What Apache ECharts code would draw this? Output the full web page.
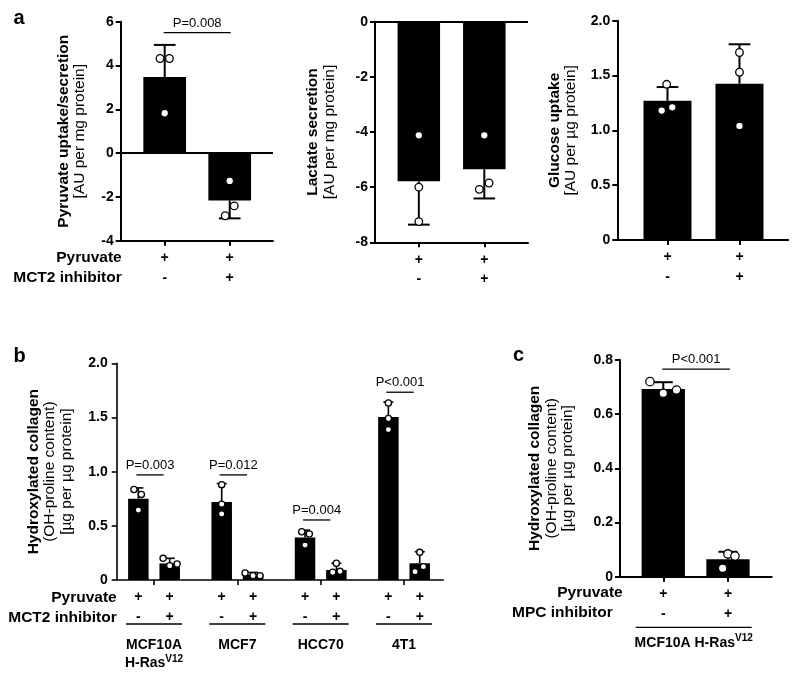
<!DOCTYPE html>
<html><head><meta charset="utf-8">
<script src="https://cdn.jsdelivr.net/npm/echarts@6/dist/echarts.min.js"></script>
<style>html,body{margin:0;padding:0;background:#fff}#chart{width:800px;height:678px}</style>
</head><body><div id="chart"></div>
<script>
// ================= DATA =================
const rowPyruvate = ['+', '+'];
const rowMCT2 = ['-', '+'];
const rowMPC = ['-', '+'];

// panel a – pyruvate uptake/secretion
const a1Means = [3.47, -2.16];
const a1Err = [1.47, 0.82];
const a1Reps = [[4.32, 4.32, 1.82], [-1.27, -2.41, -2.86]];
const a1P = ['P=0.008'];
const a1PLevel = [5.5];

// panel a – lactate secretion
const a2Means = [-5.79, -5.35];
const a2Err = [1.57, 1.06];
const a2Reps = [[-4.12, -6.0, -7.25], [-4.12, -6.08, -5.85]];

// panel a – glucose uptake
const a3Means = [1.27, 1.425];
const a3Err = [0.125, 0.36];
const a3Reps = [[1.42, 1.18, 1.21], [1.71, 1.53, 1.04]];

// panel b – hydroxylated collagen, 4 cell lines, (-/+ MCT2 inhibitor)
const bGroups = ['MCF10A\nH-Ras{sup|V12}', 'MCF7', 'HCC70', '4T1'];
const bCtrlMeans = [0.75, 0.72, 0.393, 1.504];
const bCtrlErr = [0.10, 0.17, 0.067, 0.138];
const bCtrlReps = [[0.835, 0.79, 0.645], [0.88, 0.70, 0.61], [0.445, 0.424, 0.322], [1.633, 1.49, 1.388]];
const bInhMeans = [0.153, 0.05, 0.092, 0.154];
const bInhErr = [0.047, 0.02, 0.062, 0.107];
const bInhReps = [[0.2, 0.132, 0.147], [0.065, 0.04, 0.04], [0.154, 0.071, 0.08], [0.255, 0.077, 0.123]];
const bP = ['P=0.003', 'P=0.012', 'P=0.004', 'P<0.001'];
const bPLevel = [0.97, 0.97, 0.554, 1.733];

// panel c – hydroxylated collagen, MPC inhibitor
const cGroup = ['MCF10A H-Ras{sup|V12}'];
const cMeans = [0.693, 0.064];
const cErr = [0.025, 0.028];
const cReps = [[0.72, 0.677, 0.689], [0.084, 0.076, 0.031]];
const cP = ['P<0.001'];
const cPLevel = [0.766];

// axis titles
const a1Title = ['Pyruvate uptake/secretion', '[AU per mg protein]'];
const a2Title = ['Lactate secretion', '[AU per mg protein]'];
const a3Title = ['Glucose uptake', '[AU per µg protein]'];
const bTitle = ['Hydroxylated collagen', '(OH-proline content)', '[µg per µg protein]'];
const cTitle = ['Hydroxylated collagen', '(OH-proline content)', '[µg per µg protein]'];

// ================= LAYOUT =================
const FONT = '"Liberation Sans", Arial, Helvetica, sans-serif';
const BOFF = 0.188; // half distance between the two bars of a group (in group units)

const bX = [];
const bMeansAll = [], bErrAll = [], bRepsAll = [];
bGroups.forEach((g, i) => {
  bX.push(i - BOFF, i + BOFF);
  bMeansAll.push(bCtrlMeans[i], bInhMeans[i]);
  bErrAll.push(bCtrlErr[i], bInhErr[i]);
  bRepsAll.push(bCtrlReps[i], bInhReps[i]);
});

const panels = [
  { grid: {left: 120.7, top: 21.7, width: 152.3, height: 219}, xMin: -0.677, xMax: 1.666,
    yMin: -4, yMax: 6, yInt: 2, dec: 0, barW: 42.7, cap: 21.7, r: 3.8, lw: 2, axisW: 2, zero: true,
    title: a1Title, nameGap: 32.5, labMargin: 7,
    xs: [0, 1], means: a1Means, err: a1Err, reps: a1Reps,
    jit: [[-4.7, 4.7, 0], [0, 4.5, -4.5]], rows: [rowPyruvate, rowMCT2],
    p: {texts: a1P, pairs: [[0, 1]], levels: a1PLevel, trim: [-1, 1]} },
  { grid: {left: 375, top: 21.7, width: 153, height: 220.6}, xMin: -0.669, xMax: 1.667,
    yMin: -8, yMax: 0, yInt: 2, dec: 0, barW: 42.5, cap: 21.7, r: 3.8, lw: 2, axisW: 2, zero: true,
    title: a2Title, nameGap: 37.5, labMargin: 7,
    xs: [0, 1], means: a2Means, err: a2Err, reps: a2Reps,
    jit: [[0, 0, 0], [0, -5, 4.7]], rows: [rowPyruvate, rowMCT2] },
  { grid: {left: 617.3, top: 20.7, width: 171, height: 219.3}, xMin: -0.697, xMax: 1.678,
    yMin: 0, yMax: 2, yInt: 0.5, dec: 1, barW: 48, cap: 21.7, r: 3.8, lw: 2, axisW: 2, zero: false,
    title: a3Title, nameGap: 38.3, labMargin: 7,
    xs: [0, 1], means: a3Means, err: a3Err, reps: a3Reps,
    jit: [[-0.8, -5.8, 4.8], [0, 0, 0]], rows: [rowPyruvate, rowMCT2] },
  { grid: {left: 116.7, top: 363.3, width: 326.6, height: 216.7}, xMin: -0.448, xMax: 3.471,
    yMin: 0, yMax: 2, yInt: 0.5, dec: 1, barW: 20.5, cap: 10, r: 3.1, lw: 1.6, axisW: 1.6, zero: false,
    title: bTitle, nameGap: 42, labMargin: 9,
    xs: bX, means: bMeansAll, err: bErrAll, reps: bRepsAll,
    jit: [[-4.4, 3, 0], [-6.6, 0, 7.4], [0, 0, 0], [-8, 0, 7], [-3.3, 4.3, 0], [0, -3.7, 3.7], [0, 0, 0], [0, -4.7, 3.7]],
    rows: [rowPyruvate, rowMCT2], tickAt: [0, 1, 2, 3],
    p: {texts: bP, pairs: [[0, 1], [2, 3], [4, 5], [6, 7]], levels: bPLevel, trim: [-2, -6]},
    groups: {names: bGroups, at: [0, 1, 2, 3], half: 28, line: 44, text: 56} },
  { grid: {left: 620, top: 360, width: 151.7, height: 216.7}, xMin: -0.669, xMax: 1.676,
    yMin: 0, yMax: 0.8, yInt: 0.2, dec: 1, barW: 43.3, cap: 19, r: 4.2, lw: 2, axisW: 2, zero: false,
    title: cTitle, nameGap: 43.7, labMargin: 7,
    xs: [0, 1], means: cMeans, err: cErr, reps: cReps,
    jit: [[-13.3, 0, 13.3], [0, 7, -5.3]], rows: [rowPyruvate, rowMPC],
    p: {texts: cP, pairs: [[0, 1]], levels: cPLevel, trim: [-1, 2]},
    groups: {names: cGroup, at: [0.47], half: 58, line: 50.6, text: 57} }
];

// ================= BUILD =================
const grids = [], xAxes = [], yAxes = [], series = [];

function errRender(P) {
  return function (params, api) {
    const k = params.dataIndex;
    const x = api.value(0), m = api.value(1), e = api.value(2);
    const s = m >= 0 ? 1 : -1;
    const p0 = api.coord([x, m]);
    const p1 = api.coord([x, m + s * e]);
    const kids = [
      {type: 'line', shape: {x1: p0[0], y1: p0[1], x2: p1[0], y2: p1[1]}, style: {stroke: '#000', lineWidth: P.lw}},
      {type: 'line', shape: {x1: p1[0] - P.cap / 2, y1: p1[1], x2: p1[0] + P.cap / 2, y2: p1[1]}, style: {stroke: '#000', lineWidth: P.lw}}
    ];
    for (let j = 0; j < 3; j++) {
      const p = api.coord([x, api.value(3 + j)]);
      kids.push({type: 'circle', shape: {cx: p[0] + P.jit[k][j], cy: p[1], r: P.r},
        style: {fill: '#fff', stroke: '#000', lineWidth: 1.3}});
    }
    return {type: 'group', children: kids};
  };
}

function pRender(P) {
  return function (params, api) {
    const a = api.coord([api.value(0), api.value(2)]);
    const b = api.coord([api.value(1), api.value(2)]);
    const x1 = a[0] + P.p.trim[0], x2 = b[0] + P.p.trim[1];
    return {type: 'group', children: [
      {type: 'line', shape: {x1: x1, y1: a[1], x2: x2, y2: a[1]}, style: {stroke: '#000', lineWidth: 1.3}},
      {type: 'text', x: (x1 + x2) / 2, y: a[1] - 9.5,
        style: {text: P.p.texts[params.dataIndex], align: 'center', verticalAlign: 'middle',
          textAlign: 'center', textVerticalAlign: 'middle',
          fontSize: 13, fontFamily: FONT, fill: '#000'}}
    ]};
  };
}

function groupRender(P) {
  return function (params, api) {
    const c = api.coord([api.value(0), P.yMin]);
    const g = P.groups;
    return {type: 'group', children: [
      {type: 'line', shape: {x1: c[0] - g.half, y1: c[1] + g.line, x2: c[0] + g.half, y2: c[1] + g.line},
        style: {stroke: '#000', lineWidth: 1.3}},
      {type: 'text', x: c[0], y: c[1] + g.text,
        style: {text: g.names[params.dataIndex], align: 'center', verticalAlign: 'top',
          textAlign: 'center', textVerticalAlign: 'top',
          fontSize: 14, fontWeight: 'bold', fontFamily: FONT, fill: '#000', lineHeight: 18,
          rich: {sup: {fontSize: 10, fontWeight: 'bold', fontFamily: FONT, verticalAlign: 'top', lineHeight: 18, padding: [0, 0, 6, 0]}}}}
    ]};
  };
}

panels.forEach((P, i) => {
  grids.push(Object.assign({containLabel: false, outerBoundsMode: 'none'}, P.grid));
  const rows = P.rows;
  xAxes.push({
    type: 'value', gridIndex: i, min: P.xMin, max: P.xMax, position: 'bottom',
    axisLine: {onZero: false, lineStyle: {color: '#000', width: P.axisW}},
    axisTick: {show: true, length: 5, lineStyle: {color: '#000', width: P.axisW}, customValues: P.tickAt || P.xs},
    splitLine: {show: false},
    axisLabel: {
      customValues: P.xs, margin: 7.5, color: '#000', fontFamily: FONT, fontWeight: 'bold',
      fontSize: 14, lineHeight: 19.7,
      formatter: function (v, idx) {
        let k = 0, best = 1e9;
        P.xs.forEach((x, j) => { if (Math.abs(x - v) < best) { best = Math.abs(x - v); k = j; } });
        const t = k % 2;
        return rows[0][t] + '\n' + rows[1][t];
      }
    }
  });
  const rich = {
    b: {fontWeight: 'bold', fontSize: 15.5, lineHeight: 16.5, fontFamily: FONT, color: '#000'},
    r: {fontSize: 15.5, lineHeight: 16.5, fontFamily: FONT, color: '#000'}
  };
  const nm = P.title.map((t, j) => (j === 0 ? '{b|' : '{r|') + t + '}').join('\n');
  yAxes.push({
    type: 'value', gridIndex: i, min: P.yMin, max: P.yMax, interval: P.yInt, position: 'left',
    name: nm, nameLocation: 'middle', nameRotate: 90, nameGap: P.nameGap,
    nameTextStyle: {rich: rich, fontFamily: FONT, color: '#000'},
    axisLine: {show: true, onZero: false, lineStyle: {color: '#000', width: P.axisW}},
    axisTick: {show: true, length: 5, lineStyle: {color: '#000', width: P.axisW}},
    splitLine: {show: false},
    axisLabel: {color: '#000', fontFamily: FONT, fontWeight: 'bold', fontSize: 14, margin: P.labMargin,
      formatter: v => (Math.abs(v) < 1e-9 ? '0' : v.toFixed(P.dec))}
  });
  const bar = {
    type: 'bar', xAxisIndex: i, yAxisIndex: i, barWidth: P.barW,
    itemStyle: {color: '#000'}, silent: true,
    data: P.xs.map((x, k) => [x, P.means[k]])
  };
  if (P.zero) {
    bar.markLine = {silent: true, symbol: ['none', 'none'], label: {show: false},
      lineStyle: {color: '#000', width: P.axisW, type: 'solid'}, data: [{yAxis: 0}]};
  }
  series.push(bar);
  series.push({
    type: 'custom', xAxisIndex: i, yAxisIndex: i, clip: false, z: 5, silent: true,
    renderItem: errRender(P), encode: {x: 0, y: 1},
    data: P.xs.map((x, k) => [x, P.means[k], P.err[k]].concat(P.reps[k]))
  });
  if (P.p) {
    series.push({
      type: 'custom', xAxisIndex: i, yAxisIndex: i, clip: false, z: 6, silent: true,
      renderItem: pRender(P), encode: {x: 0, y: 2},
      data: P.p.pairs.map((pr, k) => [P.xs[pr[0]], P.xs[pr[1]], P.p.levels[k]])
    });
  }
  if (P.groups) {
    series.push({
      type: 'custom', xAxisIndex: i, yAxisIndex: i, clip: false, z: 6, silent: true,
      renderItem: groupRender(P), encode: {x: 0},
      data: P.groups.at.map(g => [g])
    });
  }
});

// panel letters and treatment row labels
const txt = (text, x, y, opt) => Object.assign({type: 'text', x: x, y: y,
  style: Object.assign({text: text, fill: '#000', font: 'bold 15.5px ' + FONT, textAlign: 'right', textVerticalAlign: 'middle'}, opt || {})});
const graphic = [
  txt('a', 19, 18, {font: 'bold 20px ' + FONT, textAlign: 'center'}),
  txt('b', 19.5, 356, {font: 'bold 20px ' + FONT, textAlign: 'center'}),
  txt('c', 518.5, 355, {font: 'bold 20px ' + FONT, textAlign: 'center'}),
  txt('Pyruvate', 121.7, 257.7), txt('MCT2 inhibitor', 121.7, 277.7),
  txt('Pyruvate', 116.7, 597.7), txt('MCT2 inhibitor', 116.7, 617.5),
  txt('Pyruvate', 622.7, 592.7), txt('MPC inhibitor', 612.7, 612.3)
];

const chart = echarts.init(document.getElementById('chart'), null, {renderer: 'canvas'});
chart.setOption({
  animation: false, backgroundColor: '#fff',
  grid: grids, xAxis: xAxes, yAxis: yAxes, series: series, graphic: graphic
});
</script></body></html>
